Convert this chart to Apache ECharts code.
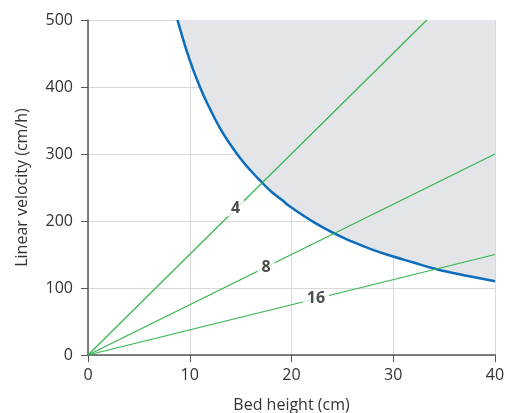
<!DOCTYPE html>
<html><head><meta charset="utf-8">
<script src="https://cdn.jsdelivr.net/npm/echarts@6/dist/echarts.min.js"></script>
<style>html,body{margin:0;padding:0;background:#fff}#c{width:507px;height:413px}</style>
</head><body><div id="c"></div>
<script>
// Blue boundary curve (bed height cm, linear velocity cm/h)
var curveX = [8.8, 9, 10, 11, 12, 13, 14, 15, 16, 17, 18, 19, 20, 22, 24, 26, 28, 30, 32, 34, 36, 38, 40];
var curveY = [500, 489, 440, 400, 367, 338, 314, 293, 275, 259, 244, 232, 220, 200, 183, 169, 157, 147, 138, 129, 122, 116, 110];
// Residence-time lines (min)
var lineNames = ['4', '8', '16'];
var lineEndX = [33.3, 40, 40];
var lineEndY = [500, 300, 150];
// Label positions on lines
var labelX = [14.5, 17.5, 22.4];
var labelY = [219, 131, 85];

var FONT = '"Open Sans", "Noto Sans", sans-serif';
var curve = curveX.map(function (x, i) { return [x, curveY[i]]; });
var series = [{
  type: 'line', data: curve, symbol: 'none', smooth: true, z: 3,
  lineStyle: { color: '#0b6dbb', width: 2.5 },
  areaStyle: { origin: 'end', color: '#e4e5e8', opacity: 1 }
}];
lineNames.forEach(function (n, i) {
  series.push({
    type: 'line', data: [[0, 0], [lineEndX[i], lineEndY[i]]], symbol: 'none', z: 4,
    lineStyle: { color: '#33b54e', width: 1.2 }
  });
});
series.push({
  type: 'scatter', symbolSize: 0, z: 10,
  data: labelX.map(function (x, i) { return { value: [x, labelY[i]], name: lineNames[i] }; }),
  label: {
    show: true, position: 'inside', formatter: '{b}', color: '#222', fontWeight: 'bold',
    fontSize: 16, fontFamily: FONT, backgroundColor: '#fff', padding: [0, 4]
  }
});

var chart = echarts.init(document.getElementById('c'));
chart.setOption({
  animation: false,
  grid: { left: 88, right: 12, top: 20, bottom: 58, containLabel: false, outerBoundsMode: 'none' },
  xAxis: {
    type: 'value', min: 0, max: 40, interval: 10,
    name: 'Bed height (cm)', nameLocation: 'middle', nameGap: 42,
    nameTextStyle: { fontSize: 16, color: '#333', fontFamily: FONT },
    axisLine: { lineStyle: { color: '#555', width: 1.5 } },
    axisTick: { show: true, length: 7, lineStyle: { color: '#555' } },
    axisLabel: { fontSize: 16, color: '#333', fontFamily: FONT, margin: 12 },
    splitLine: { show: true, lineStyle: { color: '#d9d9d9', width: 1 } }
  },
  yAxis: {
    type: 'value', min: 0, max: 500, interval: 100,
    name: 'Linear velocity (cm/h)', nameLocation: 'middle', nameGap: 58,
    nameTextStyle: { fontSize: 16, color: '#333', fontFamily: FONT },
    axisLine: { show: true, lineStyle: { color: '#555', width: 1.5 } },
    axisTick: { show: true, length: 7, lineStyle: { color: '#555' } },
    axisLabel: { fontSize: 16, color: '#333', fontFamily: FONT, margin: 15 },
    splitLine: { show: true, lineStyle: { color: '#d9d9d9', width: 1 } }
  },
  series: series
});
</script></body></html>
